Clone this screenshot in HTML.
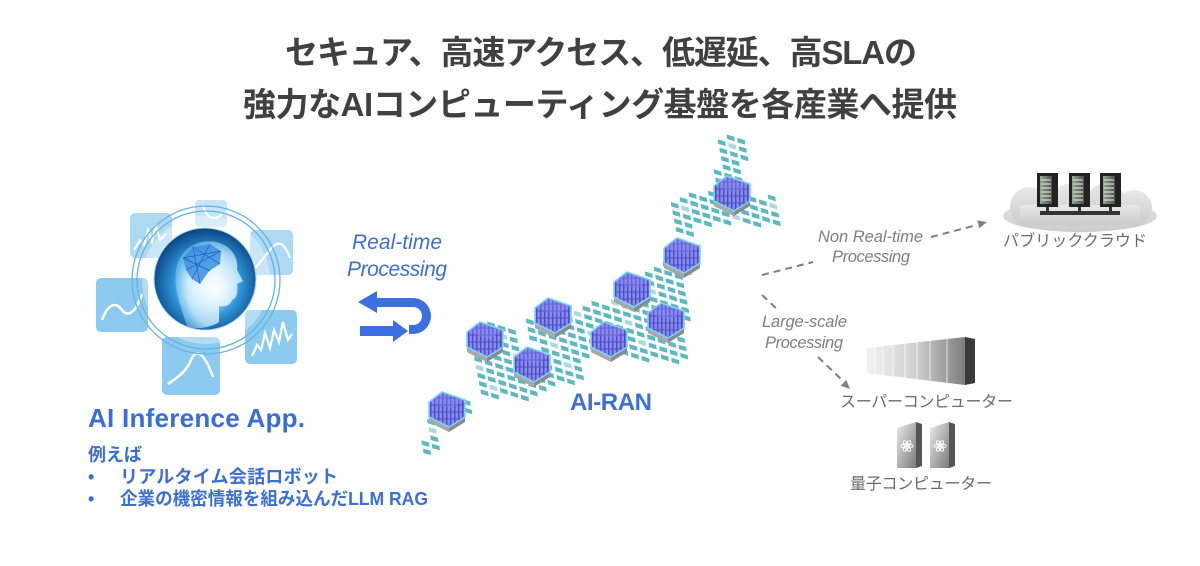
<!DOCTYPE html>
<html>
<head>
<meta charset="utf-8">
<style>
html,body{margin:0;padding:0;background:#fff;}
body{width:1200px;height:566px;overflow:hidden;}
svg{display:block;}
text{font-family:"Liberation Sans","Noto Sans CJK JP",sans-serif;}
</style>
</head>
<body>
<svg id="main" width="1200" height="566" viewBox="0 0 1200 566" xmlns="http://www.w3.org/2000/svg">
<defs>
  <pattern id="tp" width="11" height="8.5" patternUnits="userSpaceOnUse" patternTransform="matrix(1,0.33,0.18,1,0,0)">
    <rect x="1.5" y="2.5" width="7" height="3.6" fill="#5cb8c0"/>
  </pattern>
  <pattern id="rk" width="4" height="7" patternUnits="userSpaceOnUse">
    <rect width="4" height="7" fill="#4f4fc4"/>
    <rect x="0.5" y="0.5" width="2.4" height="6" fill="#8b8bf0"/>
  </pattern>
  <radialGradient id="orb" cx="0.52" cy="0.55" r="0.55">
    <stop offset="0" stop-color="#ffffff"/>
    <stop offset="0.25" stop-color="#c9ecff"/>
    <stop offset="0.6" stop-color="#2f95da"/>
    <stop offset="1" stop-color="#0a4381"/>
  </radialGradient>
  <radialGradient id="headg" cx="0.6" cy="0.55" r="0.6">
    <stop offset="0" stop-color="#ffffff" stop-opacity="1"/>
    <stop offset="0.7" stop-color="#d8f1ff" stop-opacity="0.85"/>
    <stop offset="1" stop-color="#9bd6fb" stop-opacity="0.5"/>
  </radialGradient>
  <linearGradient id="sc" x1="0" x2="1" y1="0" y2="0">
    <stop offset="0" stop-color="#f2f2f2"/>
    <stop offset="0.5" stop-color="#cfcfcf"/>
    <stop offset="1" stop-color="#7e7e7e"/>
  </linearGradient>
  <linearGradient id="qg" x1="0" x2="1" y1="0" y2="1">
    <stop offset="0" stop-color="#ececec"/>
    <stop offset="1" stop-color="#7a7a7a"/>
  </linearGradient>
  <linearGradient id="cl" x1="0" x2="0" y1="0" y2="1">
    <stop offset="0" stop-color="#e8e8e8"/>
    <stop offset="1" stop-color="#cbcbcb"/>
  </linearGradient>
  <linearGradient id="sv" x1="0" x2="1" y1="0" y2="0">
    <stop offset="0" stop-color="#9aa39a"/>
    <stop offset="1" stop-color="#4a4f4a"/>
  </linearGradient>
  <g id="cube">
    <polygon points="-18,5 2,15 18,5 18,10 2,20 -18,10" fill="#8a8a8a"/>
    <polygon points="-18,5 2,15 2,20 -18,10" fill="#a8a8a8"/>
    <polygon points="-18,-10 -5,-20 18,-12 18,5 2,15 -18,5" fill="url(#rk)"/>
    <polygon points="-18,-10 -5,-20 18,-12 4,-3" fill="#8c8cf5" opacity="0.35"/>
    <polygon points="-18,-10 -5,-20 18,-12 18,5 2,15 -18,5" fill="none" stroke="#79d4f6" stroke-width="1.6"/>
  </g>
  <g id="atom" fill="none" stroke="#ffffff" stroke-width="0.9">
    <ellipse cx="0" cy="0" rx="6" ry="2.3"/>
    <ellipse cx="0" cy="0" rx="6" ry="2.3" transform="rotate(60)"/>
    <ellipse cx="0" cy="0" rx="6" ry="2.3" transform="rotate(120)"/>
    <circle cx="0" cy="0" r="1.2" fill="#ffffff"/>
  </g>
</defs>

<!-- Title -->
<text x="601" y="64" text-anchor="middle" font-size="33" font-weight="bold" fill="#404040" textLength="632" lengthAdjust="spacing">セキュア、高速アクセス、低遅延、高SLAの</text>
<text x="600" y="116" text-anchor="middle" font-size="33" font-weight="bold" fill="#404040" textLength="714" lengthAdjust="spacing">強力なAIコンピューティング基盤を各産業へ提供</text>

<!-- Left icon: squares -->
<rect x="130" y="213" width="42" height="45" rx="5" fill="#aed9f3"/>
<path d="M134,250 L140,240 L144,245 L148,230 L152,242 L156,225 L160,240 L166,234" fill="none" stroke="#fff" stroke-width="2"/>
<rect x="195" y="200" width="32" height="27" rx="4" fill="#c6e5f7"/>
<path d="M203,205 C206,218 214,222 222,214" fill="none" stroke="#fff" stroke-width="2"/>
<rect x="250" y="230" width="43" height="45" rx="5" fill="#aed9f3"/>
<path d="M253,270 C262,262 268,250 275,245 C282,240 287,250 290,258" fill="none" stroke="#fff" stroke-width="2.2"/>
<rect x="96" y="278" width="52" height="54" rx="5" fill="#8ccbef"/>
<path d="M102,320 C107,306 115,300 122,310 C128,318 136,312 142,294" fill="none" stroke="#fff" stroke-width="2.5"/>
<rect x="245" y="310" width="52" height="54" rx="5" fill="#8ccbef"/>
<path d="M252,356 L257,345 L261,350 L265,333 L270,348 L274,330 L279,342 L283,322 L288,340 L292,334" fill="none" stroke="#fff" stroke-width="2.2"/>
<rect x="162" y="337" width="58" height="58" rx="5" fill="#8ccbef"/>
<path d="M168,384 C178,377 186,372 191,360 C196,348 204,352 213,377" fill="none" stroke="#fff" stroke-width="2.5"/>

<!-- rings -->
<circle cx="206" cy="280" r="74" fill="none" stroke="#63b3e6" stroke-width="1.3"/>
<circle cx="206" cy="280" r="69" fill="none" stroke="#63b3e6" stroke-width="1.3"/>
<circle cx="206" cy="280" r="64" fill="#ffffff" opacity="0.35"/>
<!-- orb -->
<circle cx="205" cy="279" r="51" fill="url(#orb)" stroke="#a8dbf7" stroke-width="1"/>
<path d="M187,326 C180,305 171,282 178,262 C186,242 210,236 226,246 C236,253 238,262 237,270 L243,281 L237,284 C238,292 237,298 232,300 C230,306 224,307 219,306 L219,322 C210,328 196,330 187,326 Z" fill="url(#headg)" opacity="0.9"/>
<polygon points="183,258 193,247 210,244 221,251 220,264 209,271 200,284 192,279 186,270" fill="#3a8fe3" opacity="0.85"/>
<path d="M183,258 L210,271 M193,247 L200,284 M210,244 L192,279 M221,251 L186,270 M183,258 L221,251 M193,247 L220,264" stroke="#1e5fb8" stroke-width="0.7" fill="none"/>

<!-- left text -->
<text x="88" y="427" font-size="26" font-weight="bold" fill="#3a6dd9" textLength="217" lengthAdjust="spacing">AI Inference App.</text>
<text x="88" y="461" font-size="18" font-weight="bold" fill="#3b6fd6">例えば</text>
<text x="88" y="483" font-size="18" font-weight="bold" fill="#3b6fd6">•</text>
<text x="120" y="483" font-size="18" font-weight="bold" fill="#3b6fd6" textLength="218" lengthAdjust="spacing">リアルタイム会話ロボット</text>
<text x="88" y="505" font-size="18" font-weight="bold" fill="#3b6fd6">•</text>
<text x="120" y="505" font-size="18" font-weight="bold" fill="#3b6fd6" textLength="308" lengthAdjust="spacingAndGlyphs">企業の機密情報を組み込んだLLM RAG</text>

<!-- Real-time processing -->
<text x="397" y="249" text-anchor="middle" font-size="21" font-style="italic" fill="#3d6fd8" textLength="90" lengthAdjust="spacing">Real-time</text>
<text x="397" y="276" text-anchor="middle" font-size="21" font-style="italic" fill="#3d6fd8" textLength="100" lengthAdjust="spacing">Processing</text>
<path d="M358,302 L377,291 L377,298 L413,298 A18,18 0 0 1 413,334 L409,334 L409,325 L413,325 A9,9 0 0 0 413,307 L377,307 L377,313 Z" fill="#3d6fe2"/>
<path d="M360,326 L393,326 L393,320 L408,331 L393,342 L393,336 L360,336 Z" fill="#3d6fe2"/>

<!-- Map tiles (fallback pattern; replaced by explicit tiles via script) -->
<g id="tpfb" fill="url(#tp)">
  <polygon points="418,452 430,420 446,424 436,456"/>
  <polygon points="453,398 470,394 472,412 456,416"/>
  <polygon points="472,330 500,320 520,335 528,360 548,352 583,356 580,383 540,390 522,400 480,398 472,370"/>
  <polygon points="527,318 600,302 650,297 688,302 688,362 650,360 607,355 560,360 537,355"/>
  <polygon points="647,264 688,258 690,303 652,303"/>
  <polygon points="674,197 698,192 696,238 677,236"/>
  <polygon points="692,190 779,197 777,227 696,224"/>
  <polygon points="715,135 744,135 747,190 718,190"/>
</g>
<g id="tiles"></g>

<!-- cubes -->
<use href="#cube" x="732" y="196"/>
<use href="#cube" x="682" y="258"/>
<use href="#cube" x="632" y="292"/>
<use href="#cube" x="553" y="318"/>
<use href="#cube" x="666" y="323"/>
<use href="#cube" x="609" y="342"/>
<use href="#cube" x="485" y="342"/>
<use href="#cube" x="532" y="367"/>
<use href="#cube" x="447" y="412"/>

<text x="611" y="410" text-anchor="middle" font-size="24" font-weight="bold" fill="#3d6fd9" textLength="82" lengthAdjust="spacing">AI-RAN</text>

<!-- right side dashed connectors -->
<g stroke="#7f7f7f" stroke-width="2" stroke-dasharray="7,5" fill="none">
  <line x1="762" y1="275" x2="813" y2="262"/>
  <line x1="931" y1="237" x2="977" y2="225"/>
  <line x1="762" y1="295" x2="778" y2="310"/>
  <line x1="818" y1="357" x2="842" y2="380"/>
</g>
<polygon points="987,222 979.3,228.2 977.3,220.4" fill="#7f7f7f"/>
<polygon points="850,389 840.7,385.7 846.3,379.9" fill="#7f7f7f"/>

<g font-size="16.5" font-style="italic" fill="#7f7f7f">
  <text x="818" y="242" textLength="105" lengthAdjust="spacing">Non Real-time</text>
  <text x="832" y="262" textLength="78" lengthAdjust="spacing">Processing</text>
  <text x="762" y="327" textLength="85" lengthAdjust="spacing">Large-scale</text>
  <text x="765" y="348" textLength="78" lengthAdjust="spacing">Processing</text>
</g>

<!-- cloud -->
<g fill="url(#cl)">
  <ellipse cx="1080" cy="216" rx="77" ry="16"/>
  <circle cx="1030" cy="207" r="20"/>
  <circle cx="1072" cy="205" r="22"/>
  <circle cx="1106" cy="203" r="20"/>
  <circle cx="1134" cy="208" r="18"/>
  <rect x="1020" y="205" width="120" height="20"/>
</g>
<rect x="1040" y="211" width="80" height="4" fill="#333"/>
<g>
  <rect x="1037" y="173" width="21" height="34" fill="#222"/>
  <rect x="1040" y="176" width="12" height="28" fill="url(#sv)"/>
  <line x1="1047.5" y1="207" x2="1047.5" y2="213" stroke="#333" stroke-width="3"/>
  <rect x="1069" y="173" width="21" height="34" fill="#222"/>
  <rect x="1072" y="176" width="12" height="28" fill="url(#sv)"/>
  <line x1="1079.5" y1="207" x2="1079.5" y2="213" stroke="#333" stroke-width="3"/>
  <rect x="1100" y="173" width="21" height="34" fill="#222"/>
  <rect x="1103" y="176" width="12" height="28" fill="url(#sv)"/>
  <line x1="1110.5" y1="207" x2="1110.5" y2="213" stroke="#333" stroke-width="3"/>
  <g stroke="#c9e3c0" stroke-width="1.3">
    <path d="M1041,180h10M1041,184h10M1041,188h10M1041,192h10M1041,196h10M1041,200h10"/>
    <path d="M1073,180h10M1073,184h10M1073,188h10M1073,192h10M1073,196h10M1073,200h10"/>
    <path d="M1104,180h10M1104,184h10M1104,188h10M1104,192h10M1104,196h10M1104,200h10"/>
  </g>
</g>
<text x="1003" y="246" font-size="16" fill="#6b6b6b" textLength="144" lengthAdjust="spacing">パブリッククラウド</text>

<!-- supercomputer -->
<polygon points="867,348 965,337 965,385 867,373" fill="url(#sc)"/>
<polygon points="965,337 975,339 975,383 965,385" fill="#3a3a3a"/>
<g stroke="#ffffff" stroke-width="1" opacity="0.75">
  <line x1="875" y1="347.1" x2="875" y2="374"/>
  <line x1="883" y1="346.2" x2="883" y2="375"/>
  <line x1="893" y1="345.1" x2="893" y2="376.2"/>
  <line x1="905" y1="343.7" x2="905" y2="377.7"/>
  <line x1="917" y1="342.4" x2="917" y2="379.1"/>
  <line x1="930" y1="340.9" x2="930" y2="380.7"/>
  <line x1="947" y1="339" x2="947" y2="382.8"/>
</g>
<text x="840" y="407" font-size="16" fill="#6b6b6b" textLength="173" lengthAdjust="spacing">スーパーコンピューター</text>

<!-- quantum computers -->
<polygon points="897,428 916,422 916,468 897,468" fill="url(#qg)"/>
<polygon points="916,422 922,424 922,466 916,468" fill="#555"/>
<polygon points="930,428 949,422 949,468 930,468" fill="url(#qg)"/>
<polygon points="949,422 955,424 955,466 949,468" fill="#555"/>
<use href="#atom" x="907" y="446"/>
<use href="#atom" x="940" y="446"/>
<text x="850" y="489" font-size="16" fill="#6b6b6b" textLength="142" lengthAdjust="spacing">量子コンピューター</text>
</svg>
<script>
(function(){
  try{
    var regs=[
      [[418,452],[430,420],[446,424],[436,456]],
      [[453,398],[470,394],[472,412],[456,416]],
      [[472,330],[500,320],[520,335],[528,360],[548,352],[583,356],[580,383],[540,390],[522,400],[480,398],[472,370]],
      [[527,318],[600,302],[650,297],[688,302],[688,362],[650,360],[607,355],[560,360],[537,355]],
      [[647,264],[688,258],[690,303],[652,303]],
      [[674,197],[698,192],[696,238],[677,236]],
      [[692,190],[779,197],[777,227],[696,224]],
      [[715,135],[744,135],[747,190],[718,190]]
    ];
    function inside(x,y,p){var c=false;for(var i=0,j=p.length-1;i<p.length;j=i++){var xi=p[i][0],yi=p[i][1],xj=p[j][0],yj=p[j][1];if(((yi>y)!=(yj>y))&&(x<(xj-xi)*(y-yi)/(yj-yi)+xi))c=!c;}return c;}
    var g=document.getElementById('tiles');var ns='http://www.w3.org/2000/svg';var n=0;
    for(var i=-20;i<100;i++){for(var j=-60;j<80;j++){
      var px=i*10.5+j*1.6+2, py=i*3.4+j*8.3+1;
      var cx=px+4, cy=py+3.2;
      if(cx<405||cx>790||cy<125||cy>465)continue;
      var ok=false;for(var k=0;k<regs.length;k++){if(inside(cx,cy,regs[k])){ok=true;break;}}
      if(!ok)continue;
      var el=document.createElementNS(ns,'polygon');
      var pts=[[px,py],[px+7.6,py+2.2],[px+8,py+6.7],[px+0.4,py+4.5]];
      el.setAttribute('points',pts.map(function(p){return p[0].toFixed(1)+','+p[1].toFixed(1);}).join(' '));
      var h=((i*7+j*13)%11+11)%11;
      el.setAttribute('fill',h==0?'#a9dadf':'#5cb9c2');
      g.appendChild(el);n++;
    }}
    if(n>0){document.getElementById('tpfb').style.display='none';}
  }catch(e){}
})();
</script>
</body>
</html>
